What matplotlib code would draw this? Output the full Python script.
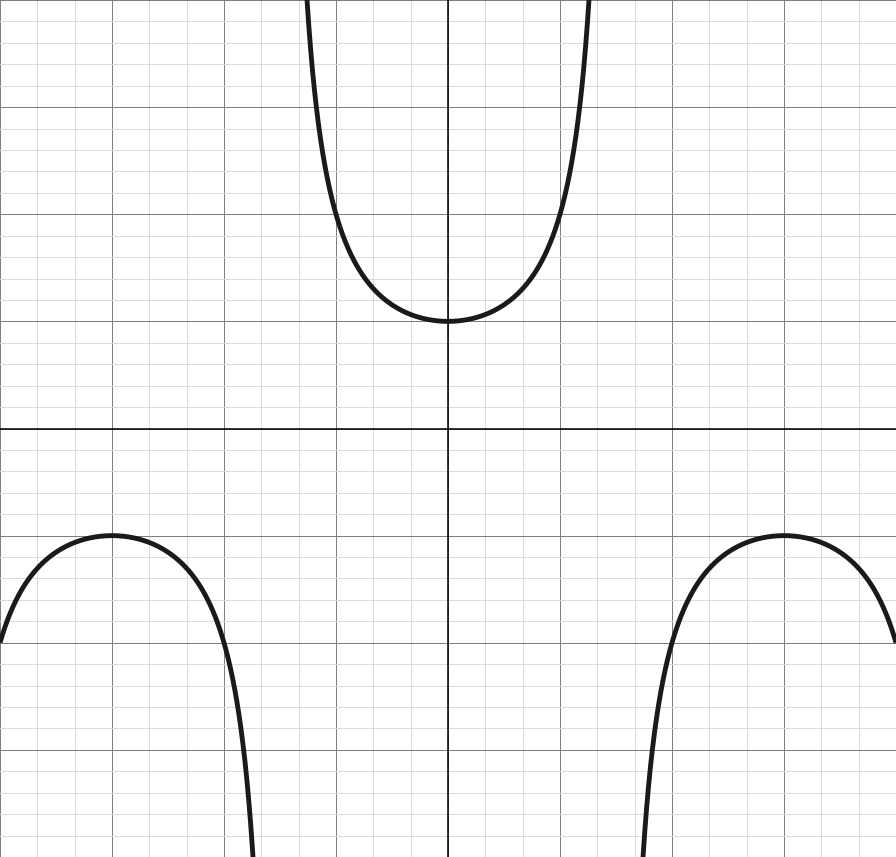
import numpy as np
import matplotlib.pyplot as plt
from matplotlib.ticker import MultipleLocator

# chart extent (x in radians, major step pi/3; y major step 1)
x_range = [-4 * np.pi / 3, 4 * np.pi / 3]
y_range = [-4, 4]
x_major = np.pi / 3
y_major = 1.0

fig = plt.figure(figsize=(8.96, 8.57), dpi=100)
ax = fig.add_axes([0, 0, 1, 1])

# branches of y = sec(x) between asymptotes
branches = [(-4 * np.pi / 3, -np.pi / 2), (-np.pi / 2, np.pi / 2), (np.pi / 2, 4 * np.pi / 3)]
for a, b in branches:
    xs = np.linspace(a + 1e-4, b - 1e-4, 2000)
    ys = 1 / np.cos(xs)
    ys[np.abs(ys) > 10] = np.nan
    ax.plot(xs, ys, color="#1a1a1a", lw=3.5, zorder=5, solid_capstyle="butt")

ax.set_xlim(x_range)
ax.set_ylim(y_range)
ax.xaxis.set_major_locator(MultipleLocator(x_major))
ax.xaxis.set_minor_locator(MultipleLocator(x_major / 3))
ax.yaxis.set_major_locator(MultipleLocator(y_major))
ax.yaxis.set_minor_locator(MultipleLocator(y_major / 5))
ax.grid(which="major", color="#7a7a7a", lw=0.7)
ax.grid(which="minor", color="#dadada", lw=0.7)
ax.axhline(0, color="black", lw=1.1, zorder=3)
ax.axvline(0, color="black", lw=1.1, zorder=3)
ax.tick_params(which="both", length=0, labelbottom=False, labelleft=False)
for s in ax.spines.values():
    s.set_visible(False)

fig.savefig("out.png", dpi=100)
